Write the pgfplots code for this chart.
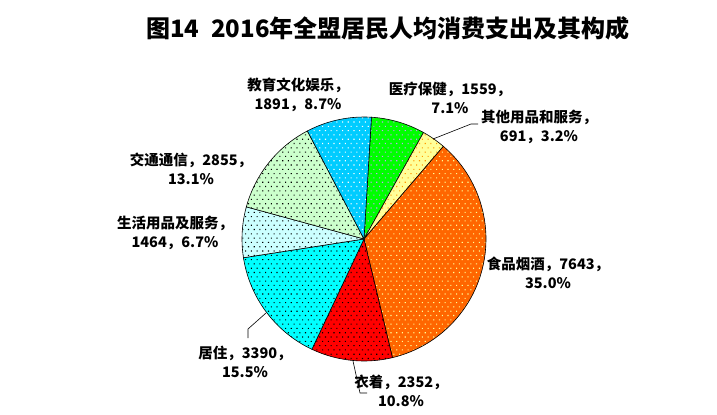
\documentclass[border=0pt]{standalone}
\usepackage{fontspec}
\setmainfont{Noto Sans CJK SC}
\usepackage{pgfplots}
\pgfplotsset{compat=1.18}
\usepackage{pgfplotstable}
\usetikzlibrary{patterns}

\definecolor{cBlue}{RGB}{0,204,255}
\definecolor{cGreen}{RGB}{0,255,0}
\definecolor{cYellow}{RGB}{255,255,153}
\definecolor{cOrange}{RGB}{255,102,0}
\definecolor{cRed}{RGB}{255,0,0}
\definecolor{cCyan}{RGB}{0,255,255}
\definecolor{cLCyan}{RGB}{204,255,255}
\definecolor{cLGreen}{RGB}{204,255,204}
\definecolor{cPink}{RGB}{204,153,255}
\definecolor{cDotOrange}{RGB}{255,153,0}
\definecolor{cPaleYellow}{RGB}{255,255,153}

\pgfdeclarepatternformonly{xdots}{\pgfqpoint{-0.5bp}{-0.5bp}}{\pgfqpoint{6.2bp}{9.1bp}}{\pgfqpoint{5.7bp}{8.6bp}}{%
 \pgfpathrectangle{\pgfqpoint{0bp}{0bp}}{\pgfqpoint{1.1bp}{1.1bp}}%
 \pgfpathrectangle{\pgfqpoint{2.85bp}{4.3bp}}{\pgfqpoint{1.1bp}{1.1bp}}%
 \pgfusepath{fill}}

% slices in clockwise order starting near 12 o'clock
\pgfplotstableread[col sep=comma]{
value,fillc,dotc
1559,cGreen,cPink
691,cYellow,cDotOrange
7643,cOrange,cPaleYellow
2352,cRed,black
3390,cCyan,black
1464,cLCyan,black
2855,cLGreen,black
1891,cBlue,white
}\piedata

\def\total{0}
\pgfplotsforeachungrouped \i in {0,...,7}{%
  \pgfplotstablegetelem{\i}{value}\of\piedata
  \edef\total{\the\numexpr\total+\pgfplotsretval\relax}}

\def\piecmds{}
\def\curang{86.5}
\pgfplotsforeachungrouped \i in {0,...,7}{%
  \pgfplotstablegetelem{\i}{value}\of\piedata \let\v\pgfplotsretval
  \pgfplotstablegetelem{\i}{fillc}\of\piedata \let\fc\pgfplotsretval
  \pgfplotstablegetelem{\i}{dotc}\of\piedata \let\dc\pgfplotsretval
  \edef\share{\the\numexpr\v*36000/\total\relax}% centidegrees
  \pgfmathsetmacro\nextang{\curang - \share/100}%
  \edef\piecmds{\unexpanded\expandafter{\piecmds}%
    \noexpand\draw[black, line width=0.6bp, preaction={fill=\fc}, pattern=xdots, pattern color=\dc]
    (axis cs:364,239) -- ++(\curang:122bp) arc[start angle=\curang, end angle=\nextang, radius=122bp] -- cycle;}%
  \let\curang\nextang
}

\newcommand\lbl{\fontsize{14.5bp}{18.5bp}\selectfont\bfseries}

\begin{document}
\begin{tikzpicture}
\begin{axis}[
  width=717bp, height=415bp, scale only axis,
  xmin=0, xmax=717, ymin=0, ymax=415, y dir=reverse,
  hide axis, clip=false]
\coordinate (bbA) at (axis cs:0,0);
\coordinate (bbB) at (axis cs:717,415);
\piecmds
% leader lines
\addplot[black, line width=0.6bp, mark=none] coordinates {(433,139) (471,124) (478,124)};
\addplot[black, line width=0.6bp, mark=none] coordinates {(266,313) (248,329) (248,338)};
\addplot[black, line width=0.6bp, mark=none] coordinates {(353,361) (360,393) (367,393)};
% title
\node at (axis cs:388,28) {\fontsize{24bp}{28bp}\selectfont\bfseries 图14\hspace{12bp}2016年全盟居民人均消费支出及其构成};
% labels
\node[align=center, font=\lbl] at (axis cs:298,95) {教育文化娱乐，\\1891，8.7\%};
\node[align=center, font=\lbl] at (axis cs:450,98) {医疗保健，1559，\\7.1\%};
\node[align=center, font=\lbl] at (axis cs:539,127) {其他用品和服务，\\691，3.2\%};
\node[align=center, font=\lbl] at (axis cs:191,169) {交通通信，2855，\\13.1\%};
\node[align=center, font=\lbl] at (axis cs:175,233) {生活用品及服务，\\1464，6.7\%};
\node[align=center, font=\lbl] at (axis cs:245,362) {居住，3390，\\15.5\%};
\node[align=center, font=\lbl] at (axis cs:401,391) {衣着，2352，\\10.8\%};
\node[align=center, font=\lbl] at (axis cs:548,273) {食品烟酒，7643，\\35.0\%};
\end{axis}
\pgfresetboundingbox
\path (bbA) rectangle (bbB);
\end{tikzpicture}
\end{document}
